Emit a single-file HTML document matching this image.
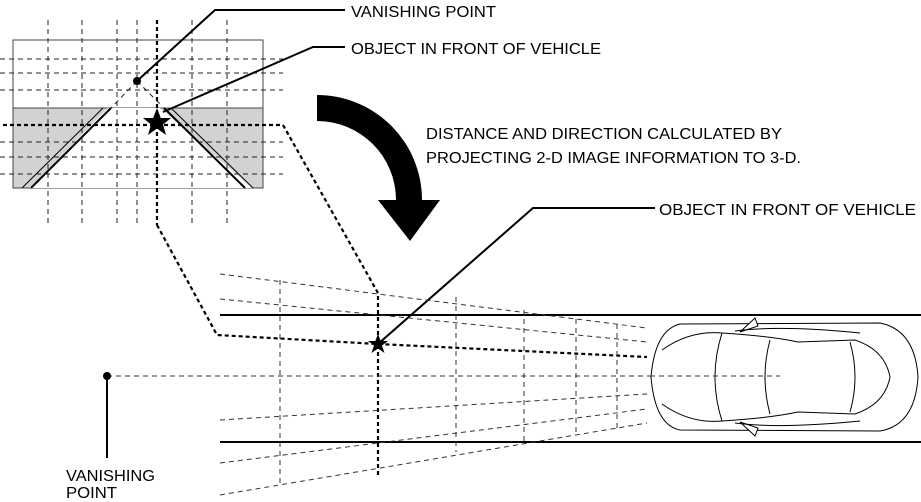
<!DOCTYPE html>
<html><head><meta charset="utf-8"><style>
html,body{margin:0;padding:0;background:#fff;}
svg{display:block;}
text{font-family:"Liberation Sans",Arial,sans-serif;font-size:16px;fill:#000;}
</style></head><body>
<svg width="921" height="502" viewBox="0 0 921 502" xmlns="http://www.w3.org/2000/svg">
<rect x="13" y="40" width="250" height="148" fill="#fff" stroke="#444" stroke-width="1"/>
<rect x="13" y="108" width="250" height="80" fill="#d2d2d2" stroke="#444" stroke-width="1"/>
<polygon points="108,108 160,108 252,188 30,188" fill="#fff"/>
<g stroke="#000" fill="none">
<line x1="103" y1="108" x2="22" y2="188" stroke-width="1"/>
<line x1="111" y1="108" x2="31" y2="188" stroke-width="2"/>
<line x1="164" y1="108" x2="245" y2="188" stroke-width="2"/>
<line x1="171" y1="108" x2="253" y2="188" stroke-width="1"/>
</g>
<g stroke="#222" stroke-width="1" stroke-dasharray="5,4" fill="none">
<line x1="48" y1="20" x2="48" y2="225"/><line x1="82" y1="20" x2="82" y2="225"/>
<line x1="117" y1="20" x2="117" y2="225"/><line x1="137" y1="20" x2="137" y2="225"/>
<line x1="192" y1="20" x2="192" y2="225"/><line x1="227" y1="20" x2="227" y2="225"/>
<line x1="0" y1="59" x2="283" y2="59"/><line x1="0" y1="73" x2="283" y2="73"/>
<line x1="0" y1="90" x2="283" y2="90"/><line x1="0" y1="142" x2="283" y2="142"/>
<line x1="0" y1="157" x2="283" y2="157"/><line x1="0" y1="174" x2="283" y2="174"/>
<line x1="137" y1="81" x2="111" y2="108"/><line x1="137" y1="81" x2="160" y2="104"/>
</g>
<g stroke="#000" stroke-width="2.2" stroke-dasharray="4,3" fill="none">
<line x1="157" y1="20" x2="157" y2="225"/>
<polyline points="3,125 283,125 378,293 378,475"/>
<polyline points="157,225 217,335 378,344 647,357"/>
</g>
<polygon points="157,108 160.8,118 171,118 163,124.5 166,135 157,128.5 148,135 151,124.5 143,118 153.2,118" fill="#000"/>
<circle cx="137" cy="81" r="4" fill="#000"/>
<g stroke="#000" stroke-width="2" fill="none">
<polyline points="137,81 215,10 345,10"/>
<polyline points="163,112 313,47 345,47"/>
<polyline points="378,344 533,208 655,208"/>
<polyline points="107,376 107,458"/>
</g>
<text x="351" y="17" textLength="145" lengthAdjust="spacingAndGlyphs">VANISHING POINT</text>
<text x="351" y="54" textLength="250" lengthAdjust="spacingAndGlyphs">OBJECT IN FRONT OF VEHICLE</text>
<text x="426" y="139" textLength="356" lengthAdjust="spacingAndGlyphs">DISTANCE AND DIRECTION CALCULATED BY</text>
<text x="426" y="163" textLength="375" lengthAdjust="spacingAndGlyphs">PROJECTING 2-D IMAGE INFORMATION TO 3-D.</text>
<text x="659" y="215" textLength="257" lengthAdjust="spacingAndGlyphs">OBJECT IN FRONT OF VEHICLE</text>
<text x="66" y="481" textLength="89" lengthAdjust="spacingAndGlyphs">VANISHING</text>
<text x="66" y="498" textLength="51" lengthAdjust="spacingAndGlyphs">POINT</text>
<path d="M317,95 A105,105 0 0 1 422,200 L440,200 L410,241 L378,200 L396,200 A79,79 0 0 0 317,121 Z" fill="#000"/>
<g stroke="#000" stroke-width="2">
<line x1="220" y1="315" x2="921" y2="315"/>
<line x1="220" y1="442" x2="921" y2="442"/>
</g>
<g stroke="#333" stroke-width="1" stroke-dasharray="5,4" fill="none">
<line x1="220" y1="274" x2="647" y2="328"/>
<line x1="220" y1="299" x2="647" y2="342"/>
<line x1="107" y1="376" x2="780" y2="376"/>
<line x1="220" y1="420" x2="647" y2="394"/>
<line x1="220" y1="463" x2="647" y2="409"/>
<line x1="220" y1="495" x2="647" y2="423"/>
<line x1="280" y1="280" x2="280" y2="484"/>
<line x1="456" y1="297" x2="456" y2="452"/>
<line x1="524" y1="310" x2="524" y2="445"/>
<line x1="576" y1="319" x2="576" y2="435"/>
<line x1="617" y1="324" x2="617" y2="428"/>
</g>
<circle cx="107" cy="376" r="4" fill="#000"/>
<polygon points="378,334 380.7,341 388,341 382,345.5 384.5,353 378,348.5 371.5,353 374,345.5 368,341 375.3,341" fill="#000"/>
<g stroke="#000" stroke-width="1" fill="#fff">
<path d="M680,324 L880,323 Q915,330 918,377 Q915,425 880,431 L680,430 Q655,425 651,377 Q655,330 680,324 Z"/>
<path d="M662,350 Q690,330 722,333 Q770,336 798,342 L855,340 Q885,350 890,377 Q885,404 855,414 L798,412 Q770,418 722,421 Q690,424 662,404" fill="none"/>
<path d="M722,333 Q708,377 722,421" fill="none"/>
<path d="M770,340 Q760,377 770,414" fill="none"/>
<path d="M850,342 Q860,377 850,412" fill="none"/>
<path d="M740,332 L755,318 L758,326 Z"/>
<path d="M740,422 L755,436 L758,428 Z"/>
<path d="M735,331 Q780,325 860,333 M735,423 Q780,429 860,421" fill="none"/>
</g>
<line x1="650" y1="376" x2="780" y2="376" stroke="#333" stroke-width="1" stroke-dasharray="5,4"/>
</svg>
</body></html>
